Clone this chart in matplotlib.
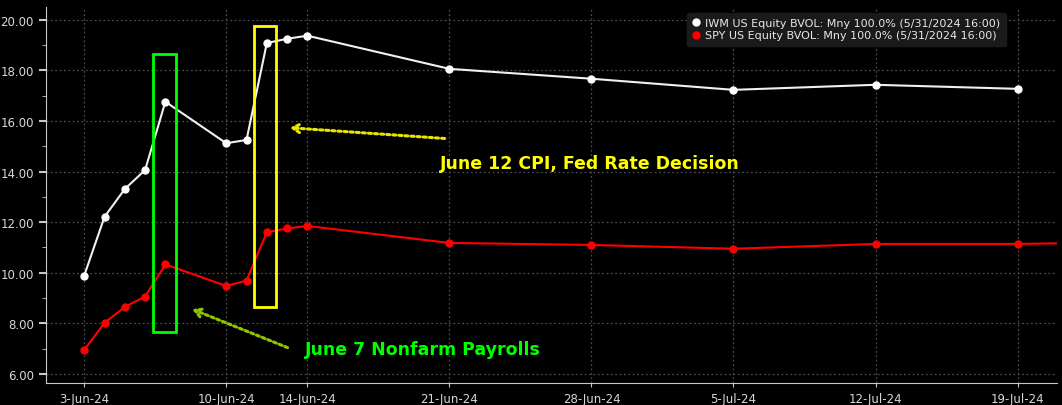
import matplotlib.pyplot as plt
import matplotlib.dates as mdates
import matplotlib.ticker as mticker
import numpy as np
import pandas as pd
from matplotlib.patches import Rectangle

dates = pd.to_datetime([
    "2024-06-03", "2024-06-04", "2024-06-05", "2024-06-06", "2024-06-07",
    "2024-06-10", "2024-06-11", "2024-06-12", "2024-06-13", "2024-06-14",
    "2024-06-21", "2024-06-28", "2024-07-05", "2024-07-12", "2024-07-19",
])
iwm = [9.89, 12.21, 13.31, 14.06, 16.76, 15.12, 15.25, 19.08, 19.25, 19.37,
       18.06, 17.67, 17.23, 17.43, 17.27]

spy_dates = pd.to_datetime(list(dates.strftime("%Y-%m-%d")) + ["2024-07-26"])
spy = [6.95, 8.02, 8.65, 9.06, 10.33, 9.48, 9.69, 11.60, 11.75, 11.85,
       11.18, 11.10, 10.95, 11.14, 11.14, 11.22]

tick_dates = pd.to_datetime([
    "2024-06-03", "2024-06-10", "2024-06-14", "2024-06-21",
    "2024-06-28", "2024-07-05", "2024-07-12", "2024-07-19",
])
tick_labels = ["3-Jun-24", "10-Jun-24", "14-Jun-24", "21-Jun-24",
               "28-Jun-24", "5-Jul-24", "12-Jul-24", "19-Jul-24"]

iwm_label = "IWM US Equity BVOL: Mny 100.0% (5/31/2024 16:00)"
spy_label = "SPY US Equity BVOL: Mny 100.0% (5/31/2024 16:00)"

fig = plt.figure(figsize=(10.62, 4.06), dpi=100, facecolor="black")
ax = fig.add_axes([0.043, 0.054, 0.952, 0.926], facecolor="black")

ax.plot(dates, iwm, color="#f0f0f0", lw=1.5, marker="o", ms=5,
        markerfacecolor="white", markeredgecolor="white", label=iwm_label, zorder=3)
ax.plot(spy_dates, spy, color="#ff0000", lw=1.5, marker="o", ms=5,
        markerfacecolor="#ff0000", markeredgecolor="#ff0000", label=spy_label, zorder=3)

d0 = mdates.date2num(pd.Timestamp("2024-06-03"))
ax.set_xlim(d0 - 1.9, d0 + 46 + 1.93)
ax.set_ylim(5.64, 20.5)

ax.set_xticks(mdates.date2num(tick_dates))
ax.set_xticklabels(tick_labels)
ax.yaxis.set_major_locator(mticker.MultipleLocator(2))
ax.yaxis.set_minor_locator(mticker.MultipleLocator(1))
ax.yaxis.set_major_formatter(mticker.FormatStrFormatter("%.2f"))

ax.grid(True, which="major", color="#4a4a4a", ls=(0, (1.5, 2)), lw=0.9)
for s in ["top", "right"]:
    ax.spines[s].set_visible(False)
for s in ["left", "bottom"]:
    ax.spines[s].set_color("#c8c8c8")
ax.tick_params(axis="both", colors="#c8c8c8", labelcolor="#d8d8d8", labelsize=8.5)
ax.tick_params(axis="y", which="major", length=5, width=1.5)
ax.tick_params(axis="y", which="minor", length=3, color="#c8c8c8")
ax.tick_params(axis="x", length=3)

# event boxes
ax.add_patch(Rectangle((d0 + 3.38, 7.66), 1.15, 11.0, fill=False,
                       edgecolor="#00ff00", lw=2, zorder=4))
ax.add_patch(Rectangle((d0 + 8.35, 8.66), 1.09, 11.11, fill=False,
                       edgecolor="#ffff00", lw=2, zorder=4))

# arrows
ax.annotate("", xy=(d0 + 10.0, 15.74), xytext=(d0 + 17.9, 15.3),
            arrowprops=dict(arrowstyle="->,head_length=0.5,head_width=0.3",
                            color="#e6e600", lw=2.2, ls=(0, (1, 1))))
ax.annotate("", xy=(d0 + 5.2, 8.6), xytext=(d0 + 10.15, 7.0),
            arrowprops=dict(arrowstyle="->,head_length=0.5,head_width=0.3",
                            color="#8fc400", lw=2.2, ls=(0, (1, 1))))

ax.text(d0 + 17.55, 14.35, "June 12 CPI, Fed Rate Decision", color="#ffff00",
        fontsize=12.5, fontweight="bold", va="center", ha="left")
ax.text(d0 + 10.9, 6.98, "June 7 Nonfarm Payrolls", color="#00ff00",
        fontsize=12.5, fontweight="bold", va="center", ha="left")

leg = ax.legend(loc="upper right", bbox_to_anchor=(0.955, 1.0), fontsize=8,
                frameon=True, facecolor="#1a1a1a", edgecolor="#1a1a1a",
                labelcolor="#e8e8e8", handlelength=0.6, handletextpad=0.5,
                borderpad=0.5, labelspacing=0.2, framealpha=1)
for h in leg.legend_handles:
    h.set_linestyle("none")
    h.set_markersize(5)

fig.savefig("out.png", dpi=100, facecolor="black")
